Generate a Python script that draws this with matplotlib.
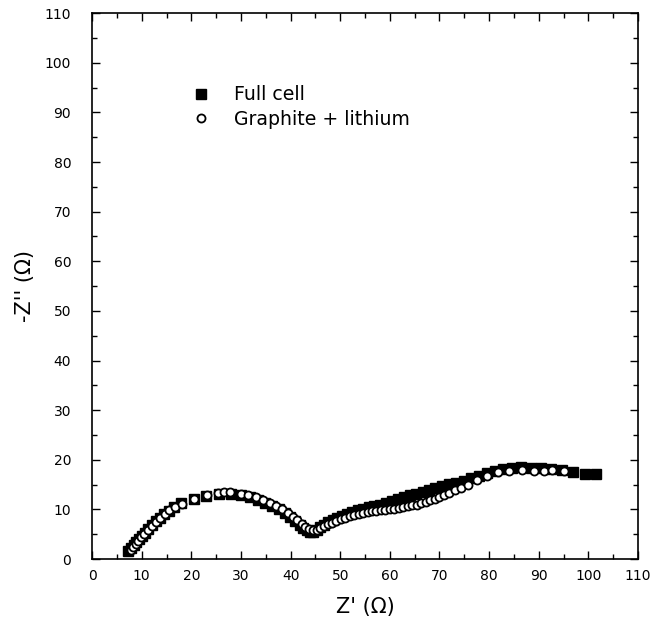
import matplotlib
matplotlib.use("Agg")
import matplotlib.pyplot as plt
from matplotlib.ticker import MultipleLocator

plt.rcParams['font.family'] = ['DejaVu Sans']

full_x = [7.3, 7.9, 8.4, 8.9, 9.4, 10.0, 10.6, 11.3, 12.0, 12.8, 13.6, 14.5, 15.5, 16.6, 18.0,
          20.6, 23.0, 25.5, 28.0, 30.0, 31.8, 33.4, 34.9, 36.3, 37.6, 38.8, 39.9, 40.9, 41.8,
          42.6, 43.3, 44.0, 44.6, 45.3, 46.0, 46.8, 47.6, 48.5, 49.4, 50.4, 51.4, 52.4, 53.5,
          54.6, 55.7, 56.8, 58.0, 59.2, 60.4, 61.6, 62.8, 64.0, 65.3, 66.6, 67.9, 69.2, 70.6,
          72.0, 73.4, 74.9, 76.4, 78.0, 79.6, 81.2, 82.9, 84.6, 86.5, 88.4, 90.4, 92.5, 94.7,
          97.0, 99.4, 101.5]
full_y = [1.6, 2.2, 2.8, 3.4, 4.0, 4.6, 5.3, 6.0, 6.8, 7.6, 8.3, 9.0, 9.7, 10.5, 11.3,
          12.1, 12.8, 13.1, 13.1, 12.9, 12.5, 12.0, 11.4, 10.7, 10.0, 9.2, 8.4, 7.6, 6.9,
          6.2, 5.8, 5.5, 5.5, 5.9, 6.4, 6.9, 7.4, 7.9, 8.3, 8.7, 9.1, 9.4, 9.8,
          10.1, 10.4, 10.7, 11.0, 11.4, 11.7, 12.1, 12.5, 12.9, 13.2, 13.6, 14.0, 14.3, 14.7,
          15.1, 15.4, 15.8, 16.3, 16.8, 17.3, 17.8, 18.2, 18.4, 18.5, 18.4, 18.3, 18.2, 18.0,
          17.6, 17.2, 17.2]

gl_x = [7.8, 8.3, 8.8, 9.3, 9.9, 10.5, 11.2, 12.0, 12.8, 13.7, 14.6, 15.6, 16.7, 18.1,
        20.6, 23.1, 25.3, 26.6, 27.8, 30.0, 31.5, 33.0, 34.4, 35.8, 37.1, 38.3, 39.4, 40.4,
        41.3, 42.2, 43.0, 43.7, 44.5, 45.3, 46.0, 46.8, 47.6, 48.4, 49.2, 50.1, 51.0, 51.9,
        52.8, 53.7, 54.6, 55.5, 56.4, 57.3, 58.2, 59.1, 60.0, 60.9, 61.8, 62.7, 63.6, 64.5,
        65.4, 66.3, 67.2, 68.1, 69.0, 70.0, 71.0, 72.0, 73.1, 74.3, 75.7, 77.6, 79.6, 81.8,
        84.0, 86.6, 89.0, 91.0, 92.7, 95.0]
gl_y = [1.8, 2.4, 3.0, 3.7, 4.4, 5.1, 5.9, 6.7, 7.5, 8.3, 9.0, 9.8, 10.5, 11.2,
        12.2, 12.9, 13.3, 13.5, 13.5, 13.2, 12.9, 12.5, 12.0, 11.4, 10.7, 10.0, 9.2, 8.5,
        7.8, 7.1, 6.5, 6.1, 5.9, 5.9, 6.2, 6.6, 7.0, 7.3, 7.7, 8.0, 8.3, 8.6,
        8.8, 9.0, 9.2, 9.4, 9.6, 9.7, 9.8, 9.9, 10.0, 10.1, 10.2, 10.4, 10.6, 10.8,
        11.0, 11.3, 11.6, 11.9, 12.2, 12.6, 13.0, 13.4, 13.9, 14.4, 15.0, 15.9, 16.7, 17.5,
        17.8, 17.9, 17.7, 17.8, 17.9, 17.8]

fig = plt.figure(figsize=(6.53, 6.24), dpi=100)
ax = fig.add_axes([0.141, 0.104, 0.836, 0.875])

ax.plot(full_x, full_y, linestyle='none', marker='s', markersize=6.5,
        color='black', label='Full cell')
ax.plot(gl_x, gl_y, linestyle='none', marker='o', markersize=5.8,
        markerfacecolor='white', markeredgecolor='black', markeredgewidth=1.3,
        label='Graphite + lithium')

ax.set_xlim(0, 110)
ax.set_ylim(0, 110)
ax.xaxis.set_major_locator(MultipleLocator(10))
ax.yaxis.set_major_locator(MultipleLocator(10))
ax.xaxis.set_minor_locator(MultipleLocator(5))
ax.yaxis.set_minor_locator(MultipleLocator(5))
ax.tick_params(which='both', direction='in', top=True, right=True, width=1.0)
ax.tick_params(which='major', length=6, labelsize=10)
ax.tick_params(which='minor', length=3.5)
ax.tick_params(axis='y', which='major', pad=15)
ax.tick_params(axis='x', which='major', pad=7)
for s in ax.spines.values():
    s.set_linewidth(1.2)

ax.set_xlabel("Z' (\u03a9)", fontsize=15, labelpad=10)
ax.set_ylabel("-Z'' (\u03a9)", fontsize=15, labelpad=7)

ax.legend(loc='upper left', bbox_to_anchor=(0.151, 0.899), frameon=False,
          fontsize=13.6, handletextpad=1.25, labelspacing=0.3, handlelength=1.0)

fig.savefig('out.png', dpi=100)
